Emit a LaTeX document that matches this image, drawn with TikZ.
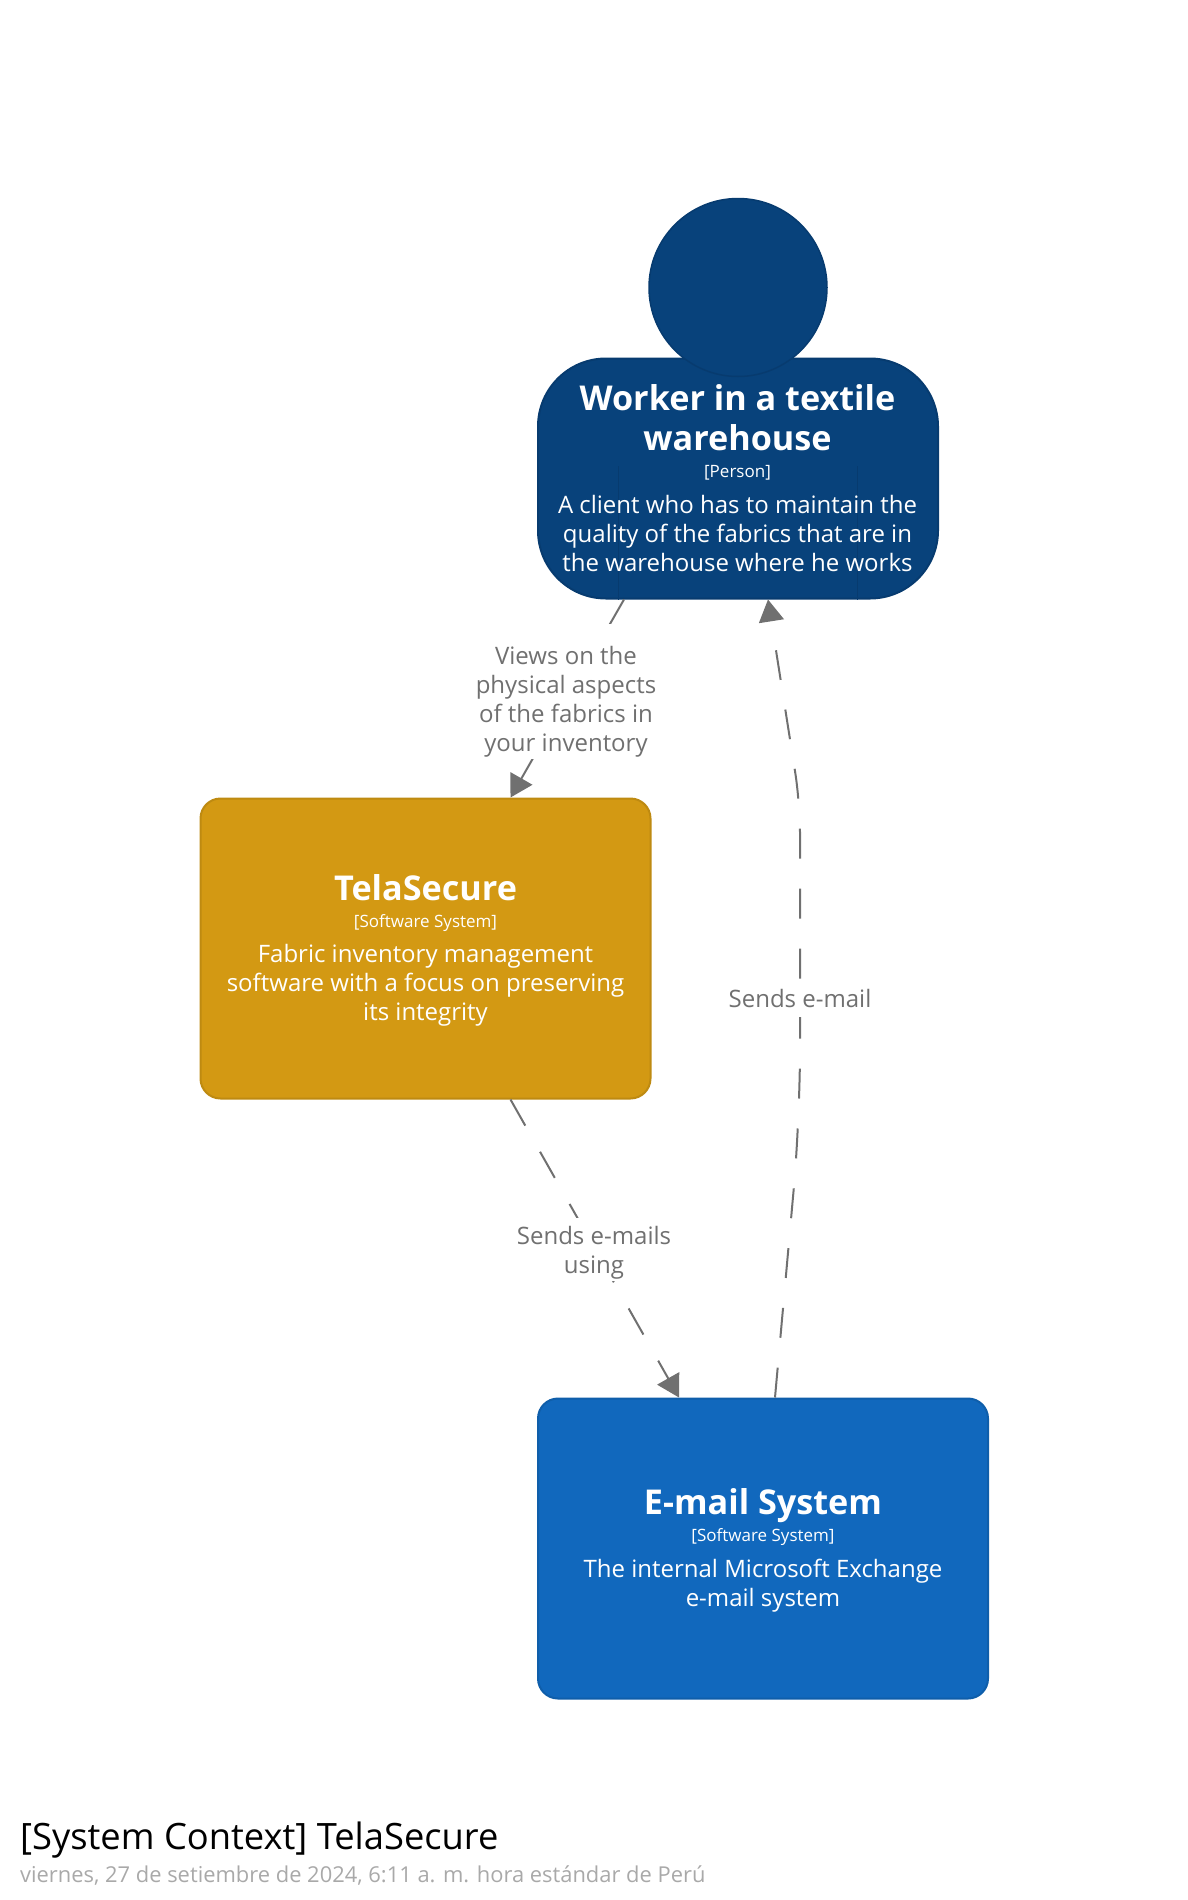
\documentclass[tikz,border=0pt]{standalone}
\usepackage{fontspec}
\setmainfont{Open Sans}
\usetikzlibrary{arrows.meta}
\definecolor{personc}{HTML}{08427B}
\definecolor{persond}{HTML}{073B6F}
\definecolor{telac}{HTML}{D39913}
\definecolor{telad}{HTML}{BE8A11}
\definecolor{mailc}{HTML}{1168BD}
\definecolor{maild}{HTML}{0F5EAA}
\definecolor{linkc}{HTML}{707070}
\definecolor{datec}{HTML}{A9A9A9}
\newcommand{\namefnt}{\fontsize{34.2}{40}\selectfont\bfseries}
\newcommand{\metafnt}{\fontsize{17}{24}\selectfont}
\newcommand{\descfnt}{\fontsize{24}{29}\selectfont}
\newcommand{\linkfnt}{\fontsize{24}{29}\selectfont}
\tikzset{
  x=1pt,y=-1pt,
  elem/.style={draw,line width=2pt,outer sep=1pt,inner sep=0pt,text=white,align=flush center,text width=440pt},
  sysbox/.style={elem,rounded corners=20pt,minimum width=450pt,minimum height=300pt},
  solidlink/.style={draw=linkc,line width=2pt,-{Triangle[length=22pt,width=25pt,fill=linkc]}},
  dashlink/.style={solidlink,dash pattern=on 30pt off 30pt},
  linklabel/.style={fill=white,text=linkc,font=\linkfnt,inner sep=0pt,align=flush center,outer sep=0pt}
}
\begin{document}
\begin{tikzpicture}
\useasboundingbox (0,0) rectangle (1188,1900);
% person
\node[elem,fill=personc,draw=persond,rounded corners=68pt,minimum width=400pt,minimum height=240pt,text width=396pt] (person) at (738,478.5) {};
\node[circle,fill=personc,draw=persond,line width=1.5pt,minimum size=178pt,inner sep=0pt,outer sep=0pt] (head) at (738,287.5) {};
\coordinate (armLtop) at (618,466);
\coordinate (armRtop) at (857.5,466);
\draw[persond,line width=1pt] (armLtop) -- (armLtop |- person.south);
\draw[persond,line width=1pt] (armRtop) -- (armRtop |- person.south);
\node[text=white,align=flush center,text width=396pt,inner sep=0pt,outer sep=0pt] (persontext) at (737.5,478) {%
  {\namefnt Worker in a textile\\warehouse\par}\vspace{3pt}%
  {\metafnt {[}Person{]}\par}\vspace{7pt}%
  {\descfnt A client who has to maintain the\\quality of the fabrics that are in\\the warehouse where he works\par}};
% tela
\node[sysbox,fill=telac,draw=telad] (tela) at (425.5,948.5) {%
  {\namefnt TelaSecure\par}\vspace{3pt}%
  {\metafnt {[}Software System{]}\par}\vspace{6.6pt}%
  {\descfnt Fabric inventory management\\software with a focus on preserving\\its integrity\par}\vspace{-4pt}};
% mail
\node[sysbox,fill=mailc,draw=maild] (mail) at (763,1548.5) {%
  {\namefnt E-mail System\par}\vspace{3pt}%
  {\metafnt {[}Software System{]}\par}\vspace{7pt}%
  {\descfnt The internal Microsoft Exchange\\e-mail system\par}\vspace{-4pt}};
% connectors
\coordinate (bendA) at (800,1119);
\coordinate (bendB) at (800,803);
\draw[solidlink] ([xshift=87pt]person.south west) -- ([xshift=311pt]tela.north west);
\draw[dashlink,rounded corners=70pt] ([xshift=238pt]mail.north west) -- (bendA) [rounded corners=30pt] -- (bendB) -- ([xshift=231pt]person.south west);
\draw[dashlink] ([xshift=311pt]tela.south west) -- ([xshift=142pt]mail.north west);
% labels
\node[linklabel,minimum width=182pt,minimum height=135pt,text width=182pt] (lblviews) at (566,691.5) {Views on the\\physical aspects\\of the fabrics in\\your inventory\par\vspace{-20pt}};
\node[linklabel,minimum width=144pt,minimum height=37pt] (lblmail) at (800,998) {Sends e-mail};
\node[linklabel,minimum width=156pt,minimum height=63pt,text width=156pt] (lblmails) at (594,1249) {Sends e-mails\\using\par\vspace{-7pt}};
% footer
\node[anchor=west,inner sep=0pt,font=\fontsize{36.3}{43}\selectfont,text=black] (title) at (20,1840.5) {[System Context] TelaSecure};
\node[anchor=west,inner sep=0pt,font=\fontsize{21.9}{27}\selectfont,text=datec] (date) at (20,1875) {viernes, 27 de setiembre de 2024, 6:11 a. m. hora estándar de Perú};
\end{tikzpicture}
\end{document}
